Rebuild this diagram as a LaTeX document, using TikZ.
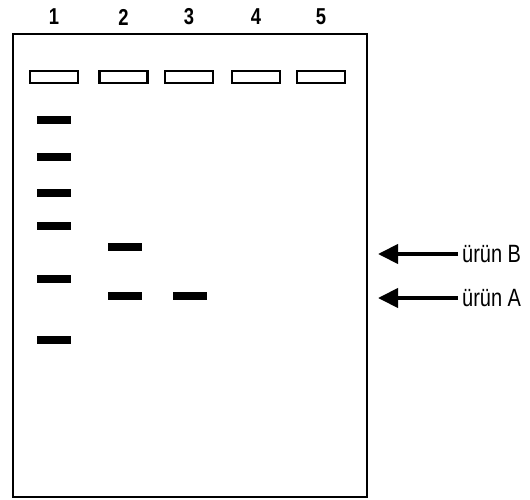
\documentclass[tikz,border=0pt]{standalone}
\usepackage{fontspec}
\setmainfont{Liberation Sans}
\usetikzlibrary{arrows.meta}
\begin{document}
\begin{tikzpicture}[x=1pt,y=-1pt,
  well/.style={draw,line width=2.4pt,minimum width=48pt,minimum height=12pt,inner sep=0pt},
  band/.style={fill=black,minimum width=34pt,minimum height=8pt,inner sep=0pt},
  num/.style={font=\bfseries\fontsize{23}{23}\selectfont,inner sep=0pt},
  lbl/.style={font=\fontsize{25}{25}\selectfont,inner sep=0pt,anchor=west,xscale=0.8},
  ptr/.style={line width=4pt,-{Triangle[length=20pt,width=19pt]}}]
\useasboundingbox (0,0) rectangle (530,500);
\node[draw,line width=2.6pt,minimum width=354pt,minimum height=463pt,inner sep=0pt] (gel) at (190,265.5) {};
\foreach \i/\x in {1/54,2/123.5,3/189,4/256,5/321}{
  \node[num,xscale=0.8] (n\i) at (\x,17) {\i};
  \node[well] (w\i) at (\x,77) {};
}
\foreach \j/\y in {a/120,b/157,c/193,d/226,e/279,f/340}
  \node[band] (l\j) at (54,\y) {};
\node[band] (b2u) at (125,247) {};
\node[band] (b2l) at (125,296) {};
\node[band] (b3l) at (190,296) {};
\node[lbl] (tB) at (462,254) {ürün B};
\node[lbl] (tA) at (462,298) {ürün A};
\coordinate (aB) at (378,254);
\coordinate (aA) at (378,298);
\draw[ptr] (tB.west) ++(-4,0) -- (aB);
\draw[ptr] (tA.west) ++(-4,0) -- (aA);
\end{tikzpicture}
\end{document}
